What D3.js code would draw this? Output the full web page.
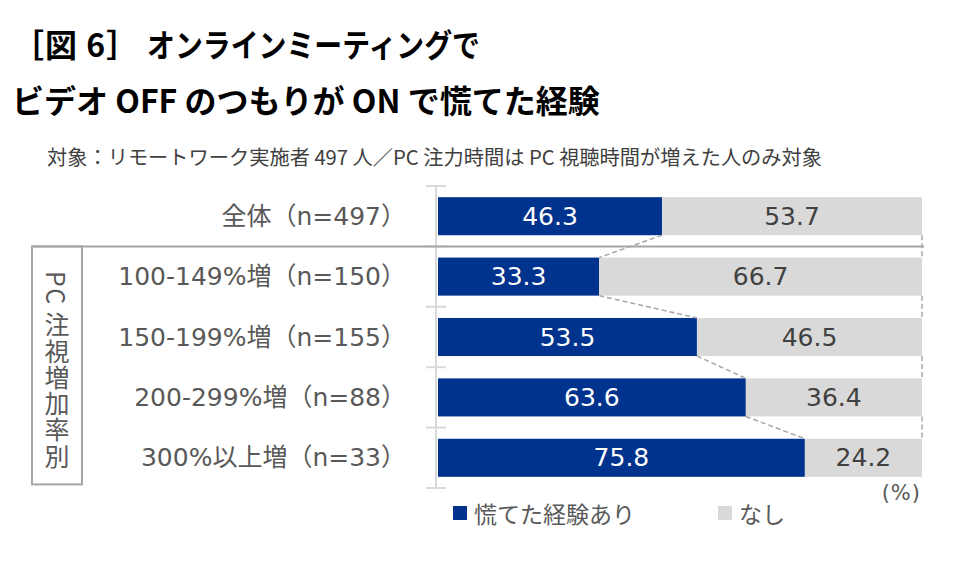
<!DOCTYPE html>
<html><head><meta charset="utf-8">
<script src="https://cdn.jsdelivr.net/npm/d3@7"></script>
<style>
html,body{margin:0;padding:0;background:#fff;}
svg{display:block;font-family:"Noto Sans CJK JP","Noto Sans",sans-serif;}
.lat{font-family:"DejaVu Sans","Noto Sans CJK JP",sans-serif;}
</style></head>
<body>
<svg id="chart" width="974" height="572"></svg>
<script>
// ---- data ----
const categories = ["全体（n=497）","100-149%増（n=150）","150-199%増（n=155）","200-299%増（n=88）","300%以上増（n=33）"];
const hadExperience = [46.3, 33.3, 53.5, 63.6, 75.8];
const noExperience = [53.7, 66.7, 46.5, 36.4, 24.2];
const seriesNames = ["慌てた経験あり", "なし"];
const titleHead = "［図 6］";
const titleLine1 = "オンラインミーティングで";
const titleLine2 = "ビデオ OFF のつもりが ON で慌てた経験";
const subtitle = "対象：リモートワーク実施者 497 人／PC 注力時間は PC 視聴時間が増えた人のみ対象";
const groupLabel = "PC 注視増加率別";
const unitLabel = "(%)";

const colors = ["#00338d", "#d9d9d9"];
const svg = d3.select("#chart");

// titles
svg.append("text").attr("x", 12).attr("y", 57).attr("font-size", 32).attr("font-weight", 700)
  .attr("fill", "#000").attr("letter-spacing", 1).text(titleHead);
svg.append("text").attr("x", 147).attr("y", 57).attr("font-size", 32).attr("font-weight", 700)
  .attr("fill", "#000").attr("textLength", 333).attr("lengthAdjust", "spacingAndGlyphs").text(titleLine1);
svg.append("text").attr("x", 12).attr("y", 113).attr("font-size", 32).attr("font-weight", 700)
  .attr("fill", "#000").text(titleLine2);
svg.append("text").attr("x", 47).attr("y", 165).attr("font-size", 20)
  .attr("fill", "#404040").attr("textLength", 775).attr("lengthAdjust", "spacingAndGlyphs").text(subtitle);

// scales
const x = d3.scaleLinear().domain([0, 100]).range([438, 922]);
const y = d3.scaleBand().domain(categories).range([186, 488]).paddingInner(0.37).paddingOuter(0.185);

// stacked data
const rows = categories.map((c, i) => ({cat: c, a: hadExperience[i], b: noExperience[i]}));
const stack = d3.stack().keys(["a", "b"])(rows);

// axis (vertical line with ticks at band boundaries)
const axisG = svg.append("g");
axisG.append("line").attr("x1", 436).attr("x2", 436).attr("y1", y.range()[0]).attr("y2", y.range()[1])
  .attr("stroke", "#d9d9d9").attr("stroke-width", 2);
const bounds = d3.range(categories.length + 1).map(i => y.range()[0] + i * y.step());
axisG.selectAll("line.tick").data(bounds).join("line").attr("class", "tick")
  .attr("x1", 426).attr("x2", 446).attr("y1", d => d).attr("y2", d => d)
  .attr("stroke", "#d9d9d9").attr("stroke-width", 2);

// bars
stack.forEach((s, si) => {
  svg.append("g").selectAll("rect").data(s).join("rect")
    .attr("x", d => x(d[0])).attr("width", d => x(d[1]) - x(d[0]))
    .attr("y", d => y(d.data.cat)).attr("height", y.bandwidth())
    .attr("fill", colors[si]);
  svg.append("g").selectAll("text").data(s).join("text")
    .attr("class", "lat")
    .attr("x", d => (x(d[0]) + x(d[1])) / 2).attr("y", d => y(d.data.cat) + y.bandwidth() / 2)
    .attr("text-anchor", "middle").attr("dominant-baseline", "central")
    .attr("font-size", 25).attr("fill", si === 0 ? "#fff" : "#404040")
    .text(d => (d[1] - d[0]).toFixed(1));
});

// separator line & group box
const sepY = y.range()[0] + y.step();
svg.append("line").attr("x1", 32).attr("x2", 924).attr("y1", sepY).attr("y2", sepY)
  .attr("stroke", "#a6a6a6").attr("stroke-width", 2);
svg.append("rect").attr("x", 32).attr("y", sepY).attr("width", 50).attr("height", 238)
  .attr("fill", "none").attr("stroke", "#a6a6a6").attr("stroke-width", 2);

// series lines (dashed)
const sl = svg.append("g").attr("stroke", "#a6a6a6").attr("stroke-width", 1.5).attr("stroke-dasharray", "5,3");
stack.forEach(s => {
  for (let i = 0; i < s.length - 1; i++) {
    sl.append("line")
      .attr("x1", x(s[i][1])).attr("y1", y(s[i].data.cat) + y.bandwidth())
      .attr("x2", x(s[i + 1][1])).attr("y2", y(s[i + 1].data.cat));
  }
});

// category labels
svg.append("g").selectAll("text").data(categories).join("text")
  .attr("class", "lat")
  .attr("x", 406).attr("y", d => y(d) + y.bandwidth() / 2)
  .attr("text-anchor", "end").attr("dominant-baseline", "central")
  .attr("font-size", 25).attr("fill", "#595959").text(d => d);

// vertical group label
svg.append("text").attr("x", 57).attr("y", 271)
  .style("writing-mode", "vertical-rl").style("text-orientation", "mixed")
  .attr("letter-spacing", 1.3)
  .attr("font-size", 25).attr("fill", "#595959").text(groupLabel);

// unit
svg.append("text").attr("class", "lat").attr("x", 921).attr("y", 493).attr("text-anchor", "end").attr("dominant-baseline", "central")
  .attr("font-size", 21).attr("letter-spacing", 1).attr("fill", "#595959").text(unitLabel);

// legend
const legendX = [453, 718];
const lg = svg.append("g").selectAll("g").data(seriesNames).join("g")
  .attr("transform", (d, i) => `translate(${legendX[i]},513)`);
lg.append("rect").attr("x", 0).attr("y", -7).attr("width", 14).attr("height", 14).attr("fill", (d, i) => colors[i]);
lg.append("text").attr("x", 21).attr("y", 0).attr("dominant-baseline", "central")
  .attr("font-size", 23).attr("fill", "#595959").text(d => d);
</script>
</body></html>
